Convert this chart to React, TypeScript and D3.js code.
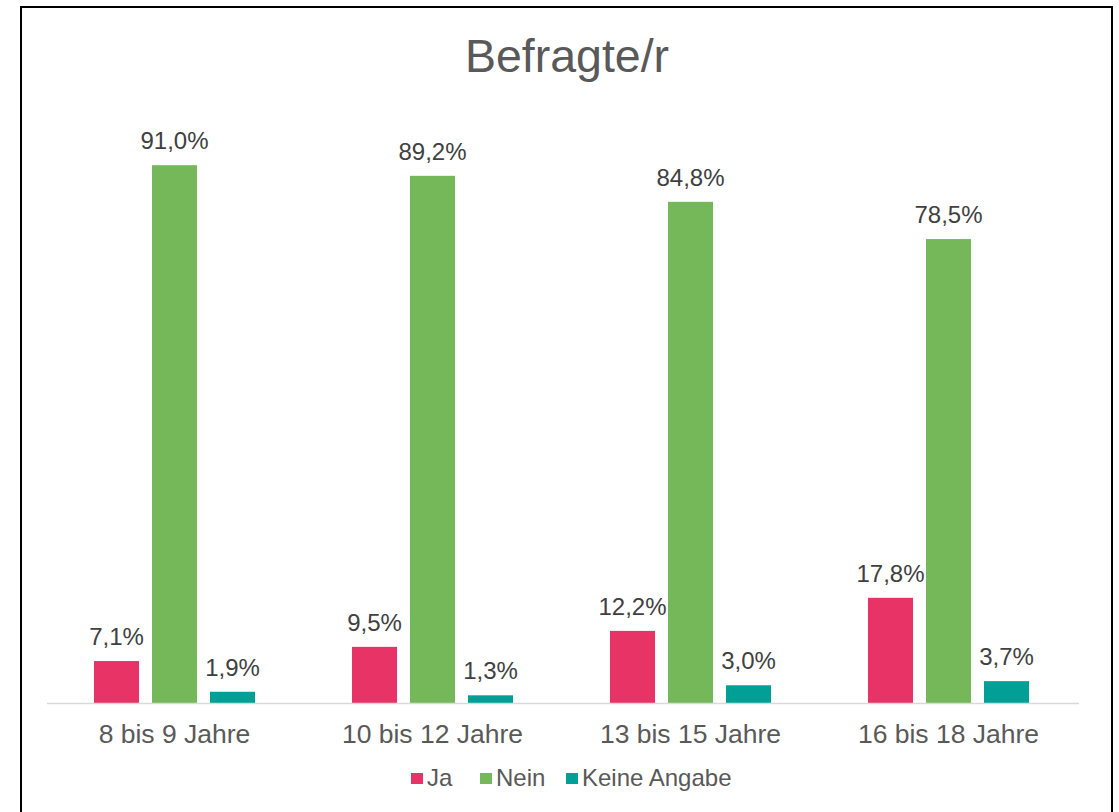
import React from "react";
import * as d3 from "d3";

const categories = ["8 bis 9 Jahre", "10 bis 12 Jahre", "13 bis 15 Jahre", "16 bis 18 Jahre"];
const seriesNames = ["Ja", "Nein", "Keine Angabe"];
const ja = [7.1, 9.5, 12.2, 17.8];
const nein = [91.0, 89.2, 84.8, 78.5];
const keine = [1.9, 1.3, 3.0, 3.7];
const colors = ["#E83366", "#74B85A", "#00A097"];

const W = 1119;
const H = 812;
const FONT = "'Liberation Sans', Arial, sans-serif";

export default function App() {
  const series = [ja, nein, keine];
  const x0 = d3.scaleBand<string>().domain(categories).range([45.5, 1077.5]).paddingInner(0).paddingOuter(0);
  const y = d3.scaleLinear().domain([0, 100]).range([703, 112]);
  const barW = 45;
  const gap = 13;
  const groupInner = barW * 3 + gap * 2;
  const fmt = (v: number) => v.toFixed(1).replace(".", ",") + "%";
  const legendItems = [
    { name: seriesNames[0], x: 411 },
    { name: seriesNames[1], x: 480 },
    { name: seriesNames[2], x: 566 },
  ];
  return (
    <svg width={W} height={H} style={{ position: "absolute", left: 0, top: 0 }}>
      <rect x={0} y={0} width={W} height={H} fill="#fff" />
      <rect x={21} y={7} width={1091} height={H + 10} fill="#fff" stroke="#000" strokeWidth={2} />
      <text x={567} y={72} textAnchor="middle" fontFamily={FONT} fontSize={46.5} fill="#595959">
        Befragte/r
      </text>
      {categories.map((c, i) => {
        const gx = (x0(c) as number) + (x0.bandwidth() - groupInner) / 2;
        return (
          <g key={c}>
            {series.map((s, j) => {
              const bx = gx + j * (barW + gap);
              const by = y(s[i]);
              return (
                <g key={j}>
                  <rect x={bx} y={by} width={barW} height={703 - by} fill={colors[j]} />
                  <text x={bx + barW / 2} y={by - 16} textAnchor="middle" fontFamily={FONT} fontSize={24} fill="#404040">
                    {fmt(s[i])}
                  </text>
                </g>
              );
            })}
            <text x={(x0(c) as number) + x0.bandwidth() / 2} y={743} textAnchor="middle" fontFamily={FONT} fontSize={26.5} fill="#595959">
              {c}
            </text>
          </g>
        );
      })}
      <line x1={47} x2={1079} y1={703.5} y2={703.5} stroke="#D9D9D9" strokeWidth={1.5} />
      {legendItems.map((l, j) => (
        <g key={l.name}>
          <rect x={l.x} y={773} width={12} height={11} fill={colors[j]} />
          <text x={l.x + 16} y={786} fontFamily={FONT} fontSize={24} fill="#595959">
            {l.name}
          </text>
        </g>
      ))}
    </svg>
  );
}
